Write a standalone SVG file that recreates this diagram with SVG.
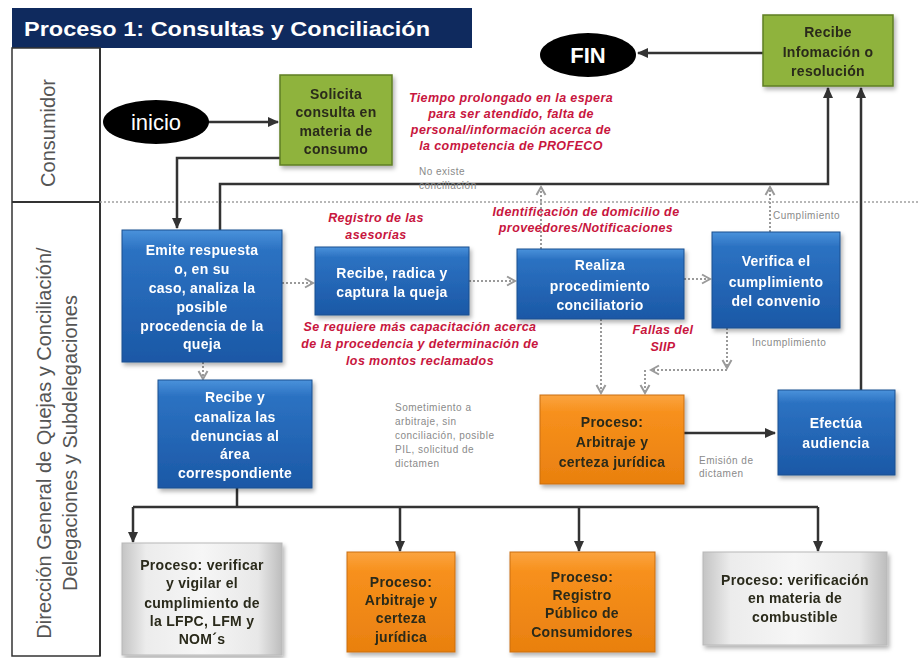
<svg xmlns="http://www.w3.org/2000/svg" width="919" height="658" viewBox="0 0 919 658">
<style>
  .bt{font-family:"Liberation Sans",Arial,sans-serif;font-weight:bold;font-size:14px;letter-spacing:0.3px;text-anchor:middle}
  .w{fill:#ffffff}
  .d{fill:#2a2a1a}
  .red{font-family:"Liberation Sans",Arial,sans-serif;font-weight:bold;font-style:italic;font-size:12.5px;letter-spacing:0.4px;fill:#c8163e;text-anchor:middle}
  .gr{font-family:"Liberation Sans",Arial,sans-serif;font-size:10px;letter-spacing:0.5px;fill:#8a8a8a}
  .lane{font-family:"Liberation Sans",Arial,sans-serif;font-size:20px;fill:#555555;text-anchor:middle}
  .solid{fill:none;stroke:#333333;stroke-width:2.5}
  .dot{fill:none;stroke:#9a9a9a;stroke-width:2;stroke-dasharray:2 2}
  .blue{fill:url(#gBlue);stroke:#1c4f8f;stroke-width:1}
  .green{fill:#8fb33c;stroke:#5f7f25;stroke-width:1.5}
  .orange{fill:url(#gOrange);stroke:#c96f10;stroke-width:1}
  .grey{fill:url(#gGrey);stroke:#b8b8b8;stroke-width:1}
</style>
<defs>
  <linearGradient id="gBlue" x1="0" y1="0" x2="0" y2="1">
    <stop offset="0" stop-color="#4a92db"/>
    <stop offset="0.15" stop-color="#2c72c2"/>
    <stop offset="1" stop-color="#1b58a6"/>
  </linearGradient>
  <linearGradient id="gOrange" x1="0" y1="0" x2="0" y2="1">
    <stop offset="0" stop-color="#fba440"/>
    <stop offset="0.2" stop-color="#f7901c"/>
    <stop offset="1" stop-color="#e9800f"/>
  </linearGradient>
  <linearGradient id="gGrey" x1="0" y1="0" x2="1" y2="0">
    <stop offset="0" stop-color="#c4c4c4"/>
    <stop offset="0.15" stop-color="#ececec"/>
    <stop offset="0.5" stop-color="#f6f6f6"/>
    <stop offset="0.85" stop-color="#e8e8e8"/>
    <stop offset="1" stop-color="#bdbdbd"/>
  </linearGradient>
  <filter id="sh" x="-10%" y="-10%" width="125%" height="130%">
    <feDropShadow dx="2" dy="3" stdDeviation="2" flood-color="#000" flood-opacity="0.3"/>
  </filter>
  <marker id="aD" markerUnits="userSpaceOnUse" markerWidth="12" markerHeight="12" refX="10" refY="6" orient="auto">
    <path d="M0,1 L11,6 L0,11 Z" fill="#333333"/>
  </marker>
  <marker id="aG" markerUnits="userSpaceOnUse" markerWidth="12" markerHeight="12" refX="10" refY="6" orient="auto">
    <path d="M2,1.5 L10,6 L2,10.5" fill="none" stroke="#9a9a9a" stroke-width="2"/>
  </marker>
</defs>

<rect width="919" height="658" fill="#ffffff"/>

<!-- title -->
<g id="title">
  <rect x="12" y="8" width="460" height="40" fill="#0f2a5e"/>
  <text x="24" y="36" font-family="'Liberation Sans',Arial,sans-serif" font-weight="bold" font-size="21" fill="#ffffff" textLength="406" lengthAdjust="spacingAndGlyphs">Proceso 1: Consultas y Conciliación</text>
</g>

<!-- swimlanes -->
<g id="lanes">
  <rect x="12" y="48" width="88" height="608" fill="none" stroke="#333333" stroke-width="1.5"/>
  <line x1="100" y1="48" x2="100" y2="656" stroke="#333333" stroke-width="2"/>
  <line x1="12" y1="202" x2="100" y2="202" stroke="#333333" stroke-width="2"/>
  <line x1="100" y1="202" x2="919" y2="202" stroke="#a0a0a0" stroke-width="1.5" stroke-dasharray="2 2"/>
  <text class="lane" transform="translate(55,133) rotate(-90)">Consumidor</text>
  <text class="lane" transform="translate(51,443) rotate(-90)">Dirección General de Quejas y Conciliación/</text>
  <text class="lane" transform="translate(77,443) rotate(-90)">Delegaciones y Subdelegaciones</text>
</g>

<!-- connectors -->
<g id="connectors">
  <path class="solid" d="M208,122 H278" marker-end="url(#aD)"/>
  <path class="solid" d="M280,158 H177 V228" marker-end="url(#aD)"/>
  <path class="solid" d="M220,230 V184 H828 V88" marker-end="url(#aD)"/>
  <path class="solid" d="M763,53 H638" marker-end="url(#aD)"/>
  <path class="solid" d="M861,390 V88" marker-end="url(#aD)"/>
  <path class="solid" d="M684,433 H775" marker-end="url(#aD)"/>
  <path class="solid" d="M237,488 V507"/>
  <path class="solid" d="M133,507 H818"/>
  <path class="solid" d="M133,507 V542" marker-end="url(#aD)"/>
  <path class="solid" d="M400,507 V551" marker-end="url(#aD)"/>
  <path class="solid" d="M579,507 V551" marker-end="url(#aD)"/>
  <path class="solid" d="M818,507 V551" marker-end="url(#aD)"/>

  <path class="dot" d="M282,283 H313" marker-end="url(#aG)"/>
  <path class="dot" d="M469,281 H515" marker-end="url(#aG)"/>
  <path class="dot" d="M684,279 H710" marker-end="url(#aG)"/>
  <path class="dot" d="M203,362 V379" marker-end="url(#aG)"/>
  <path class="dot" d="M601,319 V393" marker-end="url(#aG)"/>
  <path class="dot" d="M727,328 V368" marker-end="url(#aG)"/>
  <path class="dot" d="M727,370 H651" marker-end="url(#aG)"/>
  <path class="dot" d="M645,370 V393" marker-end="url(#aG)"/>
  <path class="dot" d="M541,249 V187" marker-end="url(#aG)"/>
  <path class="dot" d="M770,232 V187" marker-end="url(#aG)"/>

  <text class="gr" x="419" y="175">No existe</text>
  <text class="gr" x="419" y="189">conciliación</text>
  <text class="gr" x="773" y="219">Cumplimiento</text>
  <text class="gr" x="752" y="346">Incumplimiento</text>
  <text class="gr" x="395" y="411">Sometimiento a</text>
  <text class="gr" x="395" y="425">arbitraje, sin</text>
  <text class="gr" x="395" y="439">conciliación, posible</text>
  <text class="gr" x="395" y="453">PIL, solicitud de</text>
  <text class="gr" x="395" y="467">dictamen</text>
  <text class="gr" x="699" y="464">Emisión de</text>
  <text class="gr" x="699" y="477">dictamen</text>
</g>

<!-- red annotations -->
<g id="notes">
  <text class="red" x="511" y="102">Tiempo prolongado en la  espera</text>
  <text class="red" x="511" y="118">para ser atendido, falta de</text>
  <text class="red" x="511" y="134">personal/información acerca de</text>
  <text class="red" x="511" y="150">la competencia de PROFECO</text>
  <text class="red" x="376" y="222">Registro de las</text>
  <text class="red" x="376" y="239">asesorías</text>
  <text class="red" x="586" y="216">Identificación de domicilio de</text>
  <text class="red" x="586" y="232">proveedores/Notificaciones</text>
  <text class="red" x="420" y="331">Se requiere más capacitación acerca</text>
  <text class="red" x="420" y="348">de la procedencia y determinación de</text>
  <text class="red" x="420" y="365">los montos reclamados</text>
  <text class="red" x="663" y="334">Fallas del</text>
  <text class="red" x="663" y="351">SIIP</text>
</g>

<!-- nodes -->
<g id="inicio">
  <ellipse cx="156" cy="122" rx="53" ry="22" fill="#000000"/>
  <text x="156" y="130" text-anchor="middle" font-family="'Liberation Sans',Arial,sans-serif" font-size="22" fill="#ffffff">inicio</text>
</g>
<g id="fin">
  <ellipse cx="588" cy="55" rx="48" ry="22" fill="#000000"/>
  <text x="588" y="63" text-anchor="middle" font-family="'Liberation Sans',Arial,sans-serif" font-weight="bold" font-size="22" fill="#ffffff">FIN</text>
</g>
<g id="solicita" filter="url(#sh)">
  <rect class="green" x="280" y="75" width="112" height="90"/>
  <text class="bt d" x="336" y="99">Solicita</text>
  <text class="bt d" x="336" y="117">consulta en</text>
  <text class="bt d" x="336" y="136">materia de</text>
  <text class="bt d" x="336" y="154">consumo</text>
</g>
<g id="recibe-info" filter="url(#sh)">
  <rect class="green" x="763" y="15" width="130" height="71"/>
  <text class="bt d" x="828" y="37">Recibe</text>
  <text class="bt d" x="828" y="57">Infomación o</text>
  <text class="bt d" x="828" y="76">resolución</text>
</g>
<g id="emite" filter="url(#sh)">
  <rect class="blue" x="122" y="230" width="160" height="132"/>
  <text class="bt w" x="202" y="255">Emite respuesta</text>
  <text class="bt w" x="202" y="274">o, en su</text>
  <text class="bt w" x="202" y="293">caso, analiza la</text>
  <text class="bt w" x="202" y="312">posible</text>
  <text class="bt w" x="202" y="331">procedencia de la</text>
  <text class="bt w" x="202" y="349">queja</text>
</g>
<g id="recibe-radica" filter="url(#sh)">
  <rect class="blue" x="315" y="247" width="154" height="68"/>
  <text class="bt w" x="392" y="278">Recibe, radica y</text>
  <text class="bt w" x="392" y="297">captura la queja</text>
</g>
<g id="realiza" filter="url(#sh)">
  <rect class="blue" x="517" y="249" width="167" height="70"/>
  <text class="bt w" x="600" y="270">Realiza</text>
  <text class="bt w" x="600" y="291">procedimiento</text>
  <text class="bt w" x="600" y="310">conciliatorio</text>
</g>
<g id="verifica" filter="url(#sh)">
  <rect class="blue" x="712" y="232" width="128" height="96"/>
  <text class="bt w" x="776" y="266">Verifica el</text>
  <text class="bt w" x="776" y="287">cumplimiento</text>
  <text class="bt w" x="776" y="306">del convenio</text>
</g>
<g id="canaliza" filter="url(#sh)">
  <rect class="blue" x="158" y="380" width="154" height="108"/>
  <text class="bt w" x="235" y="402">Recibe y</text>
  <text class="bt w" x="235" y="422">canaliza las</text>
  <text class="bt w" x="235" y="441">denuncias al</text>
  <text class="bt w" x="235" y="459">área</text>
  <text class="bt w" x="235" y="478">correspondiente</text>
</g>
<g id="arbitraje" filter="url(#sh)">
  <rect class="orange" x="540" y="395" width="144" height="89"/>
  <text class="bt d" x="612" y="427">Proceso:</text>
  <text class="bt d" x="612" y="447">Arbitraje y</text>
  <text class="bt d" x="612" y="467">certeza jurídica</text>
</g>
<g id="audiencia" filter="url(#sh)">
  <rect class="blue" x="778" y="390" width="117" height="85"/>
  <text class="bt w" x="836" y="428">Efectúa</text>
  <text class="bt w" x="836" y="448">audiencia</text>
</g>
<g id="verificar-lfpc" filter="url(#sh)">
  <rect class="grey" x="122" y="543" width="160" height="112"/>
  <text class="bt d" x="202" y="570">Proceso: verificar</text>
  <text class="bt d" x="202" y="588">y vigilar el</text>
  <text class="bt d" x="202" y="608">cumplimiento de</text>
  <text class="bt d" x="202" y="626">la LFPC, LFM y</text>
  <text class="bt d" x="202" y="644">NOM´s</text>
</g>
<g id="arbitraje2" filter="url(#sh)">
  <rect class="orange" x="347" y="552" width="108" height="100"/>
  <text class="bt d" x="401" y="587">Proceso:</text>
  <text class="bt d" x="401" y="605">Arbitraje y</text>
  <text class="bt d" x="401" y="623">certeza</text>
  <text class="bt d" x="401" y="642">jurídica</text>
</g>
<g id="registro" filter="url(#sh)">
  <rect class="orange" x="510" y="552" width="145" height="100"/>
  <text class="bt d" x="582" y="582">Proceso:</text>
  <text class="bt d" x="582" y="600">Registro</text>
  <text class="bt d" x="582" y="618">Público de</text>
  <text class="bt d" x="582" y="637">Consumidores</text>
</g>
<g id="combustible" filter="url(#sh)">
  <rect class="grey" x="703" y="552" width="184" height="93"/>
  <text class="bt d" x="795" y="585">Proceso: verificación</text>
  <text class="bt d" x="795" y="603">en materia de</text>
  <text class="bt d" x="795" y="622">combustible</text>
</g>
</svg>
